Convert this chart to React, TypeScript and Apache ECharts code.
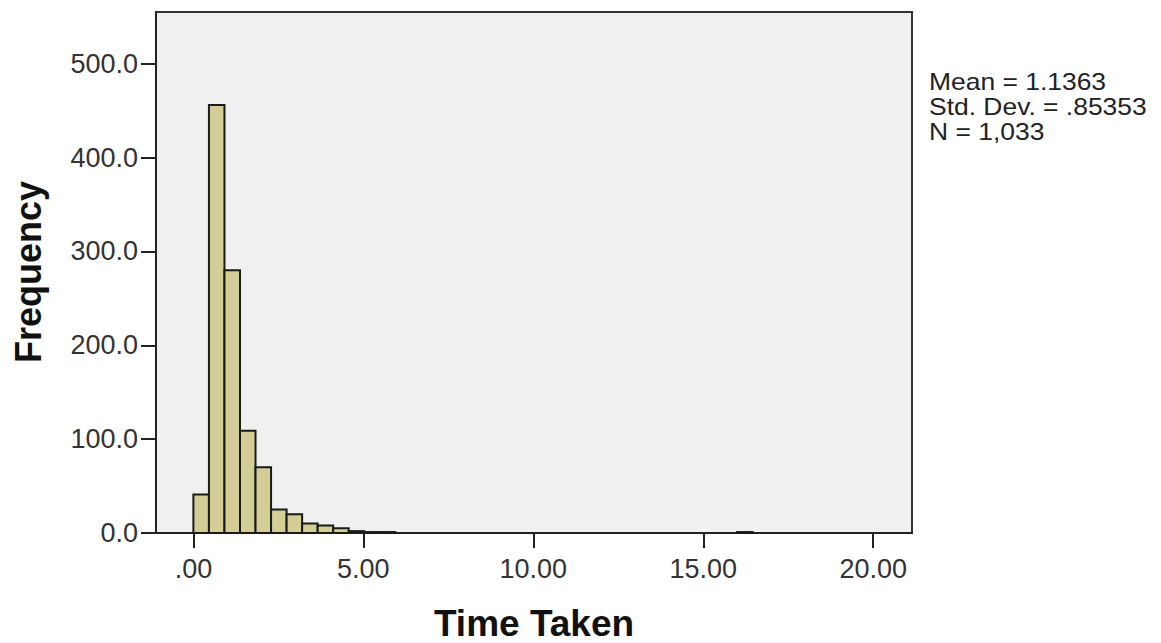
import React, { useEffect, useRef } from "react";
import * as echarts from "echarts";

// Histogram bins (bin index along x, width in "Time Taken" units) and frequencies
const BIN_WIDTH = 0.457;
const BIN_INDEX = [0, 1, 2, 3, 4, 5, 6, 7, 8, 9, 10, 11, 12, 35];
const COUNTS = [41, 456, 280, 109, 70, 25, 20, 10, 8, 5, 2, 1, 1, 1];

const X_TICKS = [0, 5, 10, 15, 20];
const Y_TICKS = [0, 100, 200, 300, 400, 500];
const STATS = ["Mean = 1.1363", "Std. Dev. = .85353", "N = 1,033"];

const FONT = "'Liberation Sans', Arial, sans-serif";

export default function App() {
  const ref = useRef<HTMLDivElement>(null);

  useEffect(() => {
    if (!ref.current) return;
    const chart = echarts.init(ref.current, null, { renderer: "svg" });
    const data = BIN_INDEX.map((b, i) => [b * BIN_WIDTH, (b + 1) * BIN_WIDTH, COUNTS[i]]);

    chart.setOption({
      animation: false,
      backgroundColor: "#ffffff",
      grid: {
        left: 156,
        right: 249,
        top: 12,
        bottom: 110,
        show: true,
        backgroundColor: "#f0f0f0",
        borderColor: "#333333",
        borderWidth: 2,
      },
      xAxis: {
        type: "value",
        min: -1.1,
        max: 21.14,
        splitLine: { show: false },
        axisLine: { show: true, onZero: false, lineStyle: { color: "#222", width: 2 } },
        axisTick: {
          show: true,
          length: 15,
          customValues: X_TICKS,
          lineStyle: { color: "#222", width: 2 },
        },
        axisLabel: {
          customValues: X_TICKS,
          margin: 22,
          fontSize: 27,
          fontFamily: FONT,
          color: "#333",
          formatter: (v: number) => (v === 0 ? ".00" : v.toFixed(2)),
        },
      },
      yAxis: {
        type: "value",
        min: 0,
        max: 555,
        splitLine: { show: false },
        axisLine: { show: true, onZero: false, lineStyle: { color: "#222", width: 2 } },
        axisTick: {
          show: true,
          length: 15,
          customValues: Y_TICKS,
          lineStyle: { color: "#222", width: 2 },
        },
        axisLabel: {
          customValues: Y_TICKS,
          margin: 18,
          fontSize: 27,
          fontFamily: FONT,
          color: "#333",
          formatter: (v: number) => v.toFixed(1),
        },
      },
      series: [
        {
          type: "custom",
          data,
          encode: { x: [0, 1], y: 2 },
          renderItem: (params: any, api: any) => {
            const p0 = api.coord([api.value(0), api.value(2)]);
            const p1 = api.coord([api.value(1), 0]);
            return {
              type: "rect",
              shape: { x: p0[0], y: p0[1], width: p1[0] - p0[0], height: p1[1] - p0[1] },
              style: { fill: "#d3ce96", stroke: "#1a1a1a", lineWidth: 2 },
            };
          },
        },
      ],
      graphic: [
        {
          type: "text",
          x: 28,
          y: 272,
          rotation: Math.PI / 2,
          style: {
            text: "Frequency",
            font: `bold 36px ${FONT}`,
            fill: "#111",
            align: "center",
            verticalAlign: "middle",
          },
        },
        {
          type: "text",
          x: 534,
          y: 623,
          style: {
            text: "Time Taken",
            font: `bold 37px ${FONT}`,
            fill: "#111",
            align: "center",
            verticalAlign: "middle",
          },
        },
        ...STATS.map((t, i) => ({
          type: "text",
          x: 929,
          y: 82 + i * 25,
          scaleX: 1.15,
          style: {
            text: t,
            font: `23px ${FONT}`,
            fill: "#222",
            align: "left",
            verticalAlign: "middle",
          },
        })),
      ],
    });

    return () => chart.dispose();
  }, []);

  return (
    <div
      ref={ref}
      style={{ position: "fixed", left: 0, top: 0, width: 1161, height: 643, background: "#fff" }}
    />
  );
}
